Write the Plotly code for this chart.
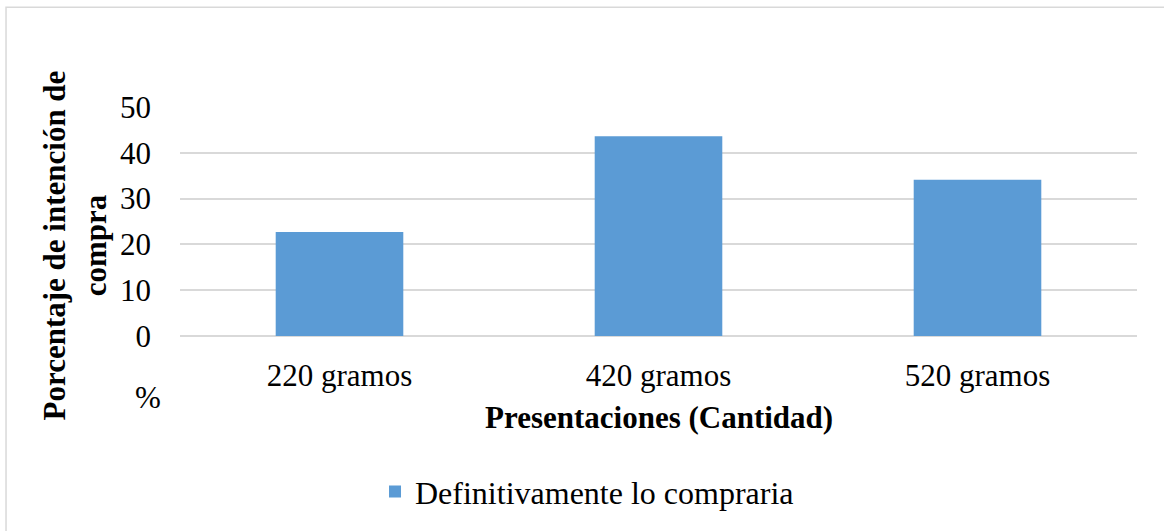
import plotly.graph_objects as go

# Purchase-intent survey: share of respondents per package size
categories = ["220 gramos", "420 gramos", "520 gramos"]
values = [22.7, 43.6, 34.1]
series_name = "Definitivamente lo compraria"
y_ticks = [0, 10, 20, 30, 40, 50]

SERIF = "Liberation Serif"
GRID = "#d9d9d9"

fig = go.Figure()
fig.add_trace(go.Bar(
    x=categories,
    y=values,
    name=series_name,
    marker=dict(color="#5b9bd5", line=dict(width=0)),
    showlegend=True,
))

fig.update_layout(
    width=1164,
    height=531,
    margin=dict(l=180, r=27, t=107, b=195),
    paper_bgcolor="white",
    plot_bgcolor="white",
    bargap=0.6,
    font=dict(family=SERIF, size=31, color="black"),
    showlegend=True,
    legend=dict(
        orientation="h",
        x=0.4253,
        xanchor="center",
        y=-0.68,
        yanchor="middle",
        font=dict(family=SERIF, size=32, color="black"),
        itemwidth=30,
        bgcolor="rgba(0,0,0,0)",
    ),
    xaxis=dict(
        showgrid=False,
        showline=False,
        ticks="",
        ticklabelstandoff=18,
        tickfont=dict(family=SERIF, size=31, color="black"),
    ),
    yaxis=dict(
        range=[0, 50],
        tickvals=y_ticks,
        showgrid=True,
        gridcolor=GRID,
        gridwidth=1.5,
        zeroline=True,
        zerolinecolor=GRID,
        zerolinewidth=1.5,
        showline=False,
        ticks="",
        ticklabelstandoff=28,
        tickfont=dict(family=SERIF, size=31, color="black"),
    ),
    shapes=[
        # outer chart frame
        dict(type="rect", xref="paper", yref="paper",
             x0=-0.1818, x1=1.2, y0=-1.2, y1=1.4354,
             line=dict(color=GRID, width=1.5), fillcolor="rgba(0,0,0,0)",
             layer="below"),
    ],
    annotations=[
        dict(text="<b>Porcentaje de intención de<br>compra</b>",
             xref="paper", yref="paper",
             x=-0.1098, y=0.395, xanchor="center", yanchor="middle",
             textangle=-90, showarrow=False,
             font=dict(family=SERIF, size=31, color="black")),
        dict(text="%", xref="paper", yref="paper",
             x=-0.0334, y=-0.27, xanchor="center", yanchor="middle",
             showarrow=False,
             font=dict(family=SERIF, size=31, color="black")),
        dict(text="<b>Presentaciones (Cantidad)</b>",
             xref="paper", yref="paper",
             x=0.5, y=-0.355, xanchor="center", yanchor="middle",
             showarrow=False,
             font=dict(family=SERIF, size=31, color="black")),
    ],
)

fig.write_html("out.html")
